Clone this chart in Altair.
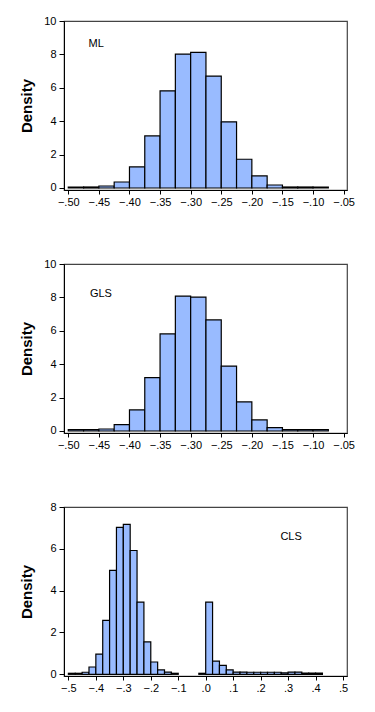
import altair as alt
import pandas as pd

# Bin starts (width 0.025) and densities
ml_start = [-0.500, -0.475, -0.450, -0.425, -0.400, -0.375, -0.350, -0.325, -0.300,
            -0.275, -0.250, -0.225, -0.200, -0.175, -0.150, -0.125, -0.100]
ml_density = [0.06, 0.06, 0.12, 0.36, 1.26, 3.12, 5.82, 8.02, 8.12,
              6.70, 3.96, 1.72, 0.72, 0.18, 0.06, 0.06, 0.06]

gls_start = ml_start
gls_density = [0.08, 0.08, 0.12, 0.38, 1.26, 3.19, 5.81, 8.08, 8.02,
               6.65, 3.89, 1.74, 0.66, 0.20, 0.08, 0.08, 0.08]

cls_start = [-0.500, -0.475, -0.450, -0.425, -0.400, -0.375, -0.350, -0.325, -0.300,
             -0.275, -0.250, -0.225, -0.200, -0.175, -0.150, -0.125,
             -0.025, 0.000, 0.025, 0.050, 0.075, 0.100, 0.125, 0.150, 0.175,
             0.200, 0.225, 0.250, 0.275, 0.300, 0.325, 0.350, 0.375, 0.400]
cls_density = [0.05, 0.05, 0.10, 0.35, 0.97, 2.58, 4.97, 7.03, 7.17,
               5.92, 3.45, 1.55, 0.59, 0.21, 0.11, 0.05,
               0.05, 3.45, 0.63, 0.43, 0.21, 0.11, 0.11, 0.10, 0.10,
               0.10, 0.10, 0.10, 0.07, 0.11, 0.11, 0.06, 0.06, 0.06]

bin_width = 0.025

ml_ticks = [-0.50, -0.45, -0.40, -0.35, -0.30, -0.25, -0.20, -0.15, -0.10, -0.05]
cls_ticks = [-0.5, -0.4, -0.3, -0.2, -0.1, 0.0, 0.1, 0.2, 0.3, 0.4, 0.5]

labels = ["ML", "GLS", "CLS"]
label_x = [-0.467, -0.4646, 0.272]
label_y = [8.62, 8.2, 6.57]

FONT = "Liberation Sans"
FILL = "#99BBFF"
W, H = 283, 169


def panel(starts, dens, xdom, xticks, fmt, ydom, yticks, lab, lx, ly):
    df = pd.DataFrame({"start": starts, "density": dens})
    df["end"] = df["start"] + bin_width
    xs = alt.Scale(domain=xdom, nice=False, zero=False)
    ys = alt.Scale(domain=ydom, nice=False, zero=False)
    xaxis = alt.Axis(
        values=xticks, title=None, grid=False,
        labelExpr=f"replace(format(datum.value, '{fmt}'), '0.', '.')",
        tickSize=4, labelPadding=2, labelFont=FONT, labelFontSize=11,
        labelColor="black", domainColor="black", tickColor="black",
        labelFlush=False, labelOverlap=False)
    yaxis = alt.Axis(
        values=yticks, title="Density", grid=False,
        tickSize=5, labelPadding=3, labelFont=FONT, labelFontSize=11,
        labelColor="black", domainColor="black", tickColor="black",
        titleFont=FONT, titleFontSize=15, titleFontWeight="bold",
        titleColor="black", titleAngle=270, titleBaseline="bottom",
        titleAlign="center", titleX=-30, titleY=H / 2,
        labelFlush=False, labelOverlap=False)
    bars = alt.Chart(df).mark_bar(
        fill=FILL, stroke="black", strokeWidth=1.2
    ).encode(
        x=alt.X("start:Q", scale=xs, axis=xaxis),
        x2="end:Q",
        y=alt.Y("density:Q", scale=ys, axis=yaxis),
        y2=alt.datum(0),
    )
    tdf = pd.DataFrame({"x": [lx], "y": [ly], "t": [lab]})
    txt = alt.Chart(tdf).mark_text(
        align="left", baseline="middle", font=FONT, fontSize=11, color="black"
    ).encode(x=alt.X("x:Q", scale=xs, axis=xaxis),
             y=alt.Y("y:Q", scale=ys, axis=yaxis), text="t:N")
    return alt.layer(bars, txt).properties(width=W, height=H)


p1 = panel(ml_start, ml_density, [-0.507, -0.0445], ml_ticks, ".2f",
           [-0.12, 10], [0, 2, 4, 6, 8, 10], labels[0], label_x[0], label_y[0])
p2 = panel(gls_start, gls_density, [-0.507, -0.0445], ml_ticks, ".2f",
           [-0.12, 10], [0, 2, 4, 6, 8, 10], labels[1], label_x[1], label_y[1])
p3 = panel(cls_start, cls_density, [-0.516, 0.5145], cls_ticks, ".1f",
           [-0.08, 8], [0, 2, 4, 6, 8], labels[2], label_x[2], label_y[2])

chart = alt.vconcat(p1, p2, p3, spacing=74, bounds="flush").properties(
    padding={"left": 18, "top": 14, "right": 5, "bottom": 5},
    background="white",
).configure_view(stroke="#444444", strokeWidth=1.2)

chart.save("out.html", embed_options={"renderer": "svg", "actions": False})
